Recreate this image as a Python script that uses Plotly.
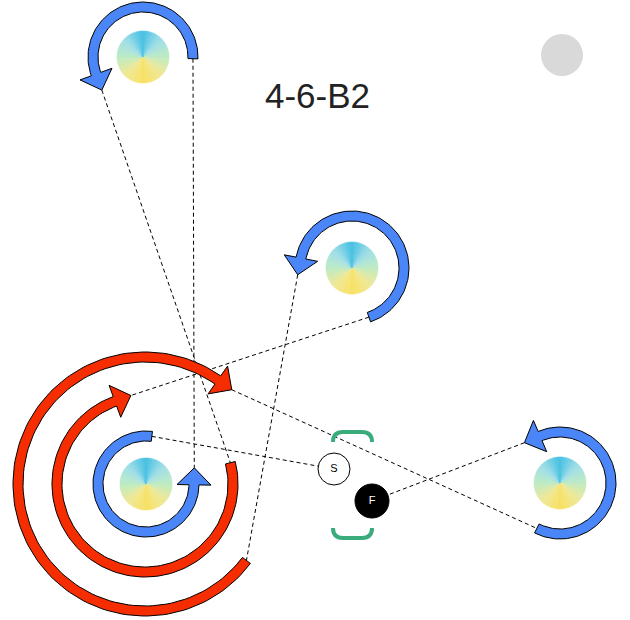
import numpy as np
import plotly.graph_objects as go

# drill diagram, pixel coordinates (y down)
cone_x = [143, 352, 560, 146]
cone_y = [57, 268, 483, 484]
cone_r = 26

# arcs: centre, radius, start angle, end angle (deg, ccw on screen)
arc_cx = [143, 352, 560, 146, 145, 145]
arc_cy = [57, 268, 483, 484, 484, 484]
arc_r = [50, 52, 51, 48, 88, 127]
arc_start = [-2, -71, -117, 83, 14, -37]
arc_end = [200, 169, 113, 359, -250, -305]
arc_color = ["#4a86f7", "#4a86f7", "#4a86f7", "#4a86f7", "#f52d00", "#f52d00"]

player_label = ["S", "F"]
player_x = [334, 372]
player_y = [469, 501]

# dashed runs: (kind, index) pairs
links = [
    (("tail", 0), ("tip", 3)),
    (("tip", 0), ("tail", 4)),
    (("tail", 1), ("tip", 4)),
    (("tip", 1), ("tail", 5)),
    (("tip", 5), ("tail", 2)),
    (("tip", 2), ("player", 1)),
    (("tail", 3), ("player", 0)),
]

title = "4-6-B2"

BAND = 10
HEAD_HW = 17
HEAD_LEN = 17


def pt(cx, cy, r, deg):
    t = np.radians(deg)
    return cx + r * np.cos(t), cy - r * np.sin(t)


def arc_shape(i):
    cx, cy, r = arc_cx[i], arc_cy[i], arc_r[i]
    a0, a1 = arc_start[i], arc_end[i]
    th = np.linspace(a0, a1, 120)
    sgn = 1 if a1 > a0 else -1
    t = np.radians(a1)
    dx, dy = -sgn * np.sin(t), -sgn * np.cos(t)
    bx, by = pt(cx, cy, r, a1)
    tip = (bx + HEAD_LEN * dx, by + HEAD_LEN * dy)
    xs, ys = [], []
    for a in th:
        p = pt(cx, cy, r + BAND / 2, a)
        xs.append(p[0]); ys.append(p[1])
    p = pt(cx, cy, r + HEAD_HW, a1)
    xs += [p[0], tip[0]]; ys += [p[1], tip[1]]
    p = pt(cx, cy, r - HEAD_HW, a1)
    xs.append(p[0]); ys.append(p[1])
    for a in th[::-1]:
        p = pt(cx, cy, r - BAND / 2, a)
        xs.append(p[0]); ys.append(p[1])
    xs.append(xs[0]); ys.append(ys[0])
    tail = pt(cx, cy, r, a0)
    return xs, ys, tip, tail


fig = go.Figure()

arcs = [arc_shape(i) for i in range(len(arc_r))]


def endpoint(e):
    kind, i = e
    if kind == "tip":
        return arcs[i][2]
    if kind == "tail":
        return arcs[i][3]
    return player_x[i], player_y[i]


for a, b in links:
    p, q = endpoint(a), endpoint(b)
    fig.add_trace(go.Scatter(x=[p[0], q[0]], y=[p[1], q[1]], mode="lines",
                             line=dict(color="black", width=1, dash="4px,3px"),
                             hoverinfo="skip"))

# cones: conic gradient made of wedges
stops = [0, 45, 90, 135, 180]
stop_cols = np.array([[70, 192, 226], [160, 222, 232], [190, 236, 196],
                      [240, 232, 150], [248, 226, 100]])


def cone_col(a):
    a = abs(((a + 180) % 360) - 180)
    c = [np.interp(a, stops, stop_cols[:, k]) for k in range(3)]
    return "rgb(%d,%d,%d)" % tuple(c)


shapes = []
n = 48
for cx, cy in zip(cone_x, cone_y):
    for k in range(n):
        a0, a1 = k * 360 / n, (k + 1) * 360 / n
        ps = []
        for a in (a0, (a0 + a1) / 2, a1):
            t = np.radians(a)
            ps.append((cx + cone_r * np.sin(t), cy - cone_r * np.cos(t)))
        path = "M %.2f %.2f " % (cx, cy) + " ".join("L %.2f %.2f" % p for p in ps) + " Z"
        col = cone_col((a0 + a1) / 2)
        shapes.append(dict(type="path", path=path, fillcolor=col,
                           line=dict(color=col, width=0.6), layer="below"))

shapes.append(dict(type="circle", x0=541, y0=34, x1=583, y1=76,
                   fillcolor="#d9d9d9", line=dict(width=0), layer="below"))

green = "#3aab7b"
shapes.append(dict(type="path", path="M 333 442 Q 333 432 343 432 L 362 432 Q 372 432 372 442",
                   line=dict(color=green, width=4)))
shapes.append(dict(type="path", path="M 333 528 Q 333 538 343 538 L 362 538 Q 372 538 372 528",
                   line=dict(color=green, width=4)))

for i, (xs, ys, tip, tail) in enumerate(arcs):
    fig.add_trace(go.Scatter(x=xs, y=ys, mode="lines", fill="toself",
                             fillcolor=arc_color[i],
                             line=dict(color="black", width=1),
                             hoverinfo="skip"))

fig.add_trace(go.Scatter(x=player_x[:1], y=player_y[:1], mode="markers+text",
                         text=player_label[:1], textposition="middle center",
                         marker=dict(size=32, color="white", line=dict(color="black", width=1)),
                         textfont=dict(size=11, color="black", family="Liberation Sans, Arial")))
fig.add_trace(go.Scatter(x=player_x[1:], y=player_y[1:], mode="markers+text",
                         text=player_label[1:], textposition="middle center",
                         marker=dict(size=34, color="black", line=dict(color="black", width=1)),
                         textfont=dict(size=11, color="white", family="Liberation Sans, Arial")))

fig.add_annotation(x=317, y=95, text=title, showarrow=False,
                   font=dict(size=35, color="#222222", family="Liberation Sans, Arial"))

fig.update_layout(width=630, height=620, margin=dict(l=0, r=0, t=0, b=0),
                  plot_bgcolor="white", paper_bgcolor="white", showlegend=False,
                  shapes=shapes,
                  xaxis=dict(range=[0, 630], visible=False, fixedrange=True),
                  yaxis=dict(range=[620, 0], visible=False, fixedrange=True))

fig.write_html("out.html", config={"displayModeBar": False},
               post_script="document.body.style.margin='0';")
